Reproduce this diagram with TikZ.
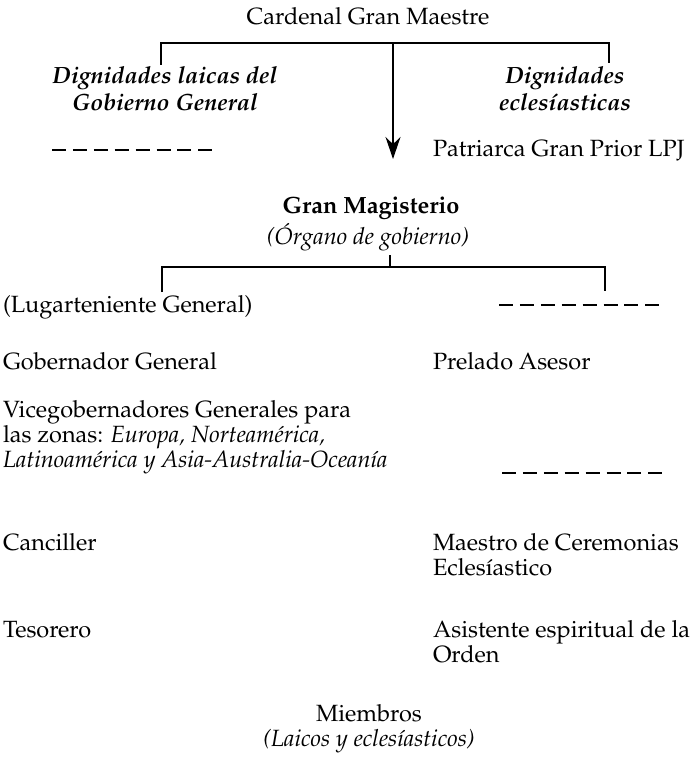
\documentclass[tikz,border=0pt]{standalone}
\usepackage[T1]{fontenc}
\usepackage{mathpazo}
\usetikzlibrary{arrows.meta}

\begin{document}
\begin{tikzpicture}[x=1pt,y=-1pt,>={Stealth[length=22pt,width=15pt]},
        every node/.style={inner sep=0pt,outer sep=0pt,font=\fontsize{23.5}{25}\selectfont},
        txt/.style={anchor=base west,align=left},
        mid/.style={anchor=base,align=center},
        rango/.style={mid,font=\fontsize{23.5}{27}\selectfont\bfseries\itshape},
        linea/.style={line width=1.1pt},
        vacante/.style={line width=1.4pt,dash pattern=on 14pt off 6.9pt}]
    \useasboundingbox (0,0) rectangle (696,759);

    % cabeza (base = ultima linea)
    \node[mid]   (cgm)   at (368,25)  {Cardenal Gran Maestre};
    \node[rango] (laic)  at (165,111) {Dignidades laicas del\\Gobierno General};
    \node[rango] (ecle)  at (565,111) {Dignidades\\ecles\'{\i}asticas};
    \node[txt]   (patr)  at (433,157) {Patriarca Gran Prior LPJ};

    \coordinate (t0) at (393,43);
    \coordinate (tl) at (161,43);
    \coordinate (tr) at (609,43);
    \coordinate (tlb) at (161,65);
    \coordinate (trb) at (609,63);
    \coordinate (flecha) at (393,159);
    \draw[linea] (tlb) -- (tl) -- (tr) -- (trb);
    \draw[linea,->] (t0) -- (flecha);

    \coordinate (v1a) at (52,150);
    \coordinate (v1b) at (212,150);
    \draw[vacante] (v1a) -- (v1b);

    % gran magisterio
    \node[mid,font=\fontsize{23.5}{25}\selectfont\bfseries] (gm) at (371,214) {Gran Magisterio};
    \node[mid,font=\fontsize{23.5}{25}\selectfont\itshape] (org) at (368,244) {(\'Organo de gobierno)};

    \coordinate (m0) at (390,255);
    \coordinate (m1) at (390,267);
    \coordinate (ml) at (162,267);
    \coordinate (mr) at (605,267);
    \coordinate (mlb) at (162,292);
    \coordinate (mrb) at (605,291);
    \draw[linea] (m0) -- (m1);
    \draw[linea] (mlb) -- (ml) -- (mr) -- (mrb);

    % columna laica
    \node[txt] (lug)  at (3,312) {(Lugarteniente General)};
    \node[txt] (gob)  at (3,369) {Gobernador General};
    \node[txt] (vice) at (3,467) {Vicegobernadores Generales para\\las zonas: \textit{Europa, Norteam\'erica,}\\\textit{Latinoam\'erica y Asia-Australia-Ocean\'{\i}a}};
    \node[txt] (canc) at (3,550) {Canciller};
    \node[txt] (teso) at (3,637) {Tesorero};

    % columna eclesiastica
    \coordinate (v2a) at (499,305);
    \coordinate (v2b) at (659,305);
    \draw[vacante] (v2a) -- (v2b);
    \node[txt] (prel) at (433,369) {Prelado Asesor};
    \coordinate (v3a) at (502,473);
    \coordinate (v3b) at (662,473);
    \draw[vacante] (v3a) -- (v3b);
    \node[txt] (maes) at (433,575) {Maestro de Ceremonias\\Ecles\'{\i}astico};
    \node[txt] (asis) at (433,662) {Asistente espiritual de la\\Orden};

    % miembros
    \node[mid] (miem) at (369,746) {Miembros\\\textit{(Laicos y ecles\'{\i}asticos)}};
\end{tikzpicture}
\end{document}
